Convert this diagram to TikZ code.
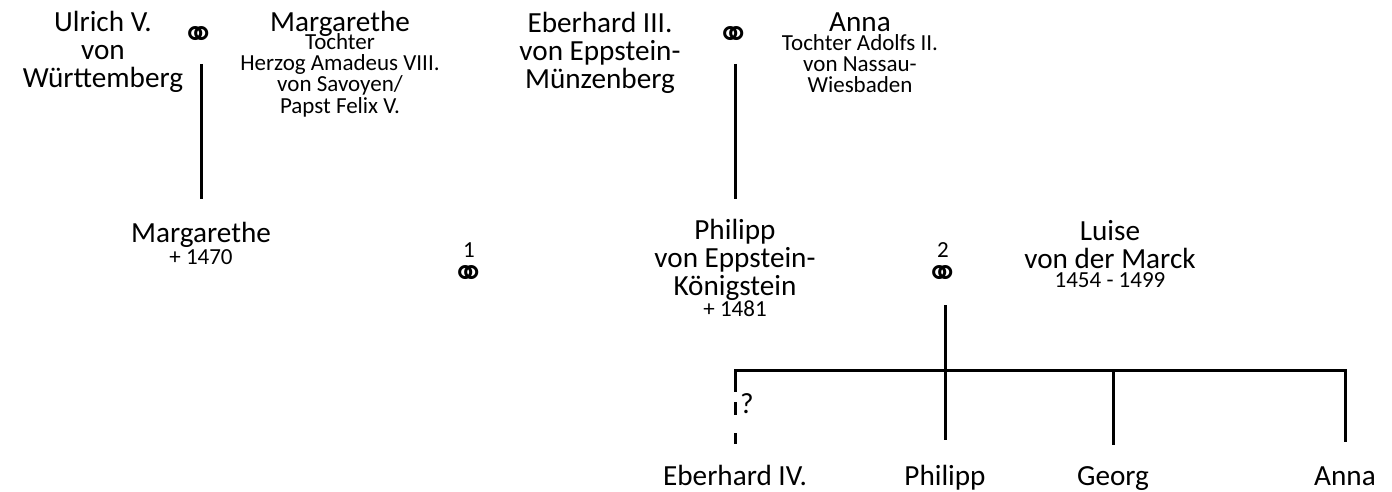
\documentclass[tikz,border=0pt]{standalone}
\usepackage{fontspec}
\setmainfont{Carlito}
\newfontfamily\ringfont{DejaVu Sans}
\begin{document}
\begin{tikzpicture}[x=0.5pt,y=-0.5pt,
    person/.style={align=center, inner sep=0pt, anchor=base, font=\fontsize{14.6}{14}\selectfont},
    info/.style={align=center, inner sep=0pt, anchor=base, font=\fontsize{11.5}{10.6}\selectfont},
    ring/.style={inner sep=0pt, font=\ringfont\fontsize{20.5}{20.5}\selectfont},
    stem/.style={line width=1.5pt},
  ]
  \useasboundingbox (0,0) rectangle (1392,492);

  % parents, upper row (base = last line)
  \node[person] at (103,88) (ulrich) {Ulrich V.\\von\\Württemberg};
  \node[ring] at (199,38) (ringA) {⚭};
  \node[person] at (340,32) (margS) {Margarethe};
  \node[info] at (340,113) (margSinfo) {Tochter\\Herzog Amadeus VIII.\\von Savoyen/\\Papst Felix V.};
  \node[person] at (600,89) (eberhard) {Eberhard III.\\von Eppstein-\\Münzenberg};
  \node[ring] at (734,38) (ringB) {⚭};
  \node[person] at (860,32) (annaN) {Anna};
  \node[info] at (860,93) (annaNinfo) {Tochter Adolfs II.\\von Nassau-\\Wiesbaden};

  % middle row
  \node[person] at (201,242) (margW) {Margarethe};
  \node[info] at (201,264) (margWinfo) {+ 1470};
  \node[info] at (469,257) (num1) {1};
  \node[ring] at (469,276) (ringC) {⚭};
  \node[person] at (735,295) (philipp) {Philipp\\von Eppstein-\\Königstein};
  \node[info] at (735,316) (philippinfo) {+ 1481};
  \node[info] at (943,257) (num2) {2};
  \node[ring] at (943,276) (ringD) {⚭};
  \node[person] at (1110,268) (luise) {Luise\\von der Marck};
  \node[info] at (1110,287) (luiseinfo) {1454 - 1499};

  % children
  \coordinate (busL) at (735,370);
  \coordinate (busR) at (1345,370);
  \node[person, anchor=center] at (747,404) (query) {?};
  \node[person] at (735,485) (eberhardIV) {Eberhard IV.};
  \node[person] at (945,485) (philippS) {Philipp};
  \node[person] at (1113,485) (georg) {Georg};
  \node[person] at (1345,485) (annaS) {Anna};

  \draw[stem, shorten <=13pt, shorten >=11pt] (ringA.center -| margW) -- (margW.north);
  \draw[stem, shorten <=13pt, shorten >=9.5pt] (ringB.center -| philipp) -- (philipp.north);
  \draw[stem, shorten <=14.5pt] (ringD.center -| philippS) -- (philippS |- busL);
  \draw[stem, line cap=rect] (busL) -- (busR);
  \draw[stem, dash pattern=on 11pt off 5pt on 6.5pt off 9pt on 5.5pt off 20pt, shorten >=9.5pt] (busL) -- (busL |- eberhardIV.north);
  \draw[stem, shorten >=12pt] (busL -| philippS) -- (philippS.north);
  \draw[stem, shorten >=10.5pt] (busL -| georg) -- (georg.north);
  \draw[stem, shorten >=12pt] (busL -| annaS) -- (annaS.north);
\end{tikzpicture}
\end{document}
